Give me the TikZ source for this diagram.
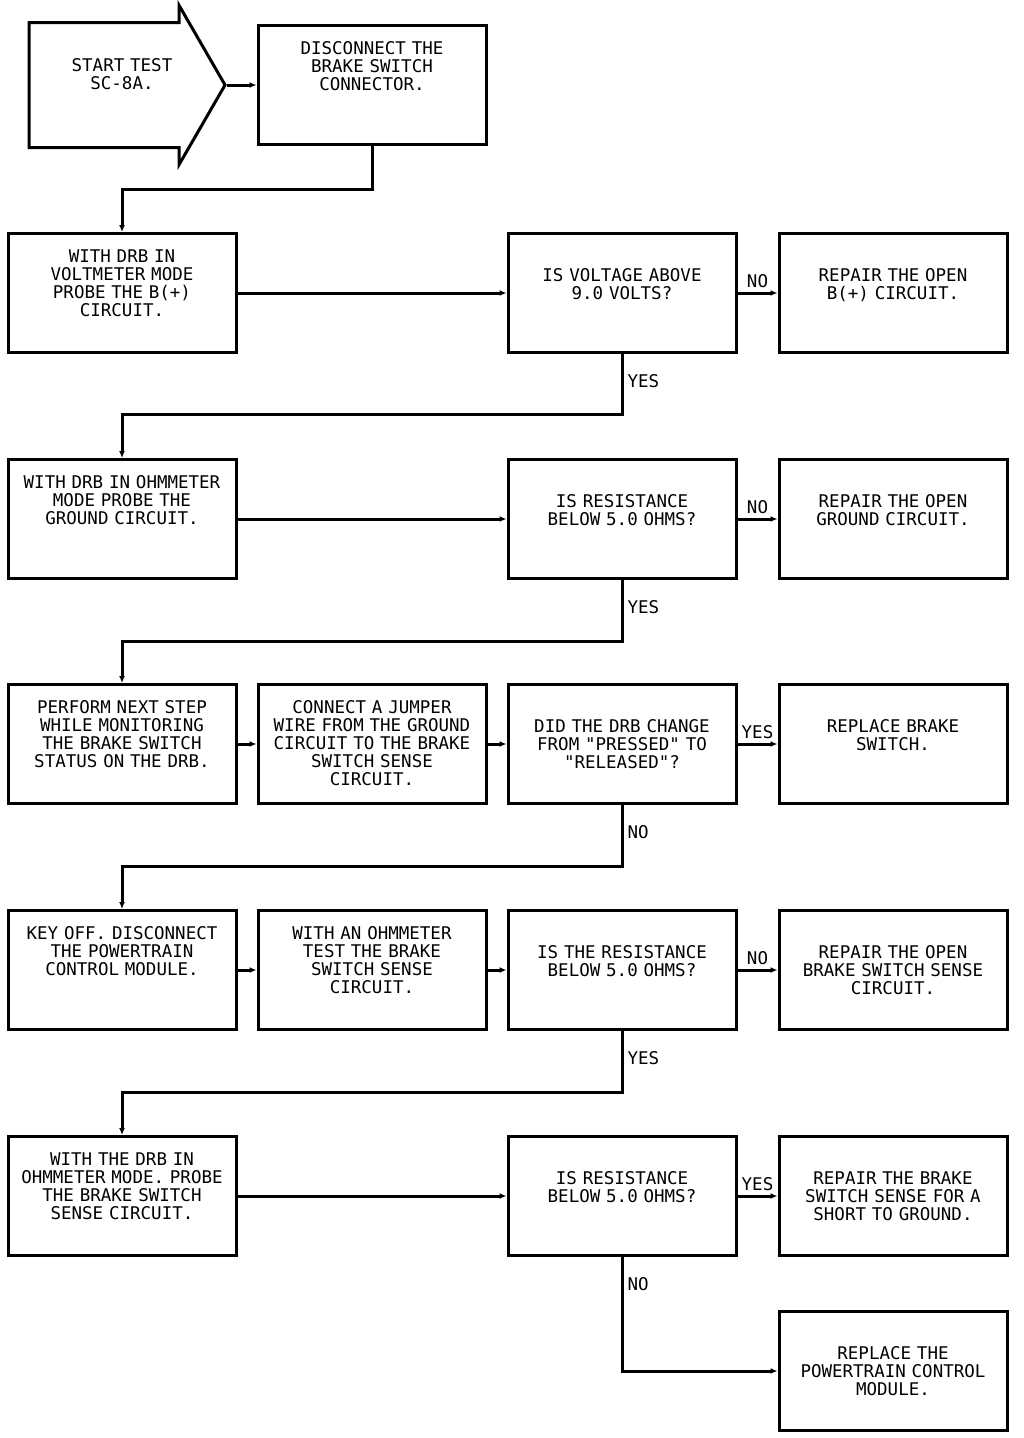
\documentclass[tikz,border=0pt]{standalone}
\usepackage{fontspec}
\setmonofont{DejaVu Sans Mono}
\usepackage{tikz}
\usetikzlibrary{arrows.meta, shapes.arrows, positioning}

\begin{document}
\begin{tikzpicture}[x=1pt, y=-1pt,
    every node/.style={font=\ttfamily\fontsize{17.5}{18}\selectfont},
    stepbox/.style={rectangle, draw, line width=3pt, minimum width=228pt, minimum height=119pt,
        inner xsep=3pt, inner ysep=0pt, text width=222pt, align=center, text height=29pt, text depth=90pt},
    checkbox/.style={stepbox, text height=48pt, text depth=71pt},
    conn/.style={line width=3pt, -{Latex[length=7pt, width=6pt]}},
    answer/.style={inner sep=4pt}]
    \useasboundingbox (0,0) rectangle (1024,1438);

    % start arrow, text sits a bit right of the node centre
    \node[single arrow, draw, line width=3pt, minimum height=196pt, minimum width=156pt,
        single arrow head extend=17pt, single arrow tip angle=120, inner sep=0pt,
        text width=150pt, align=center, text height=47pt, text depth=75pt] at (109, 85) (start)
        {\hspace*{26pt}START TEST\\\hspace*{26pt}SC-8A.};
    \node[stepbox] at (372, 85)   (disc) {DISCONNECT THE\\BRAKE SWITCH\\CONNECTOR.};

    \node[stepbox] at (122, 293)  (volt) {WITH DRB IN\\VOLTMETER MODE\\PROBE THE B(+)\\CIRCUIT.};
    \node[checkbox] at (622, 293) (qvolt) {IS VOLTAGE ABOVE\\9.0 VOLTS?};
    \node[checkbox] at (893, 293) (fixbatt) {REPAIR THE OPEN\\B(+) CIRCUIT.};

    \node[stepbox] at (122, 519)  (ground) {WITH DRB IN OHMMETER\\MODE PROBE THE\\GROUND CIRCUIT.};
    \node[checkbox] at (622, 519) (qground) {IS RESISTANCE\\BELOW 5.0 OHMS?};
    \node[checkbox] at (893, 519) (fixground) {REPAIR THE OPEN\\GROUND CIRCUIT.};

    \node[stepbox] at (122, 744)  (monitor) {PERFORM NEXT STEP\\WHILE MONITORING\\THE BRAKE SWITCH\\STATUS ON THE DRB.};
    \node[stepbox] at (372, 744)  (jumper) {CONNECT A JUMPER\\WIRE FROM THE GROUND\\CIRCUIT TO THE BRAKE\\SWITCH SENSE\\CIRCUIT.};
    \node[checkbox] at (622, 744) (qstatus) {DID THE DRB CHANGE\\FROM "PRESSED" TO\\"RELEASED"?};
    \node[checkbox] at (893, 744) (swap) {REPLACE BRAKE\\SWITCH.};

    \node[stepbox] at (122, 970)  (keyoff) {KEY OFF. DISCONNECT\\THE POWERTRAIN\\CONTROL MODULE.};
    \node[stepbox] at (372, 970)  (ohmtest) {WITH AN OHMMETER\\TEST THE BRAKE\\SWITCH SENSE\\CIRCUIT.};
    \node[checkbox] at (622, 970) (qsense) {IS THE RESISTANCE\\BELOW 5.0 OHMS?};
    \node[checkbox] at (893, 970) (fixsense) {REPAIR THE OPEN\\BRAKE SWITCH SENSE\\CIRCUIT.};

    \node[stepbox] at (122, 1196)  (probe) {WITH THE DRB IN\\OHMMETER MODE. PROBE\\THE BRAKE SWITCH\\SENSE CIRCUIT.};
    \node[checkbox] at (622, 1196) (qshort) {IS RESISTANCE\\BELOW 5.0 OHMS?};
    \node[checkbox] at (893, 1196) (fixshort) {REPAIR THE BRAKE\\SWITCH SENSE FOR A\\SHORT TO GROUND.};
    \node[checkbox] at (893, 1371) (pcm) {REPLACE THE\\POWERTRAIN CONTROL\\MODULE.};

    \draw [conn] (start.tip) -- (disc);
    \draw [conn] (disc.south) -- ++(0, 43) -| (volt.north);

    \draw [conn] (volt) -- (qvolt);
    \draw [conn] (qvolt) -- node[above, answer] (novolt) {NO} (fixbatt);
    \draw [conn] (qvolt.south) -- ++(0, 60) node[pos=0.45, right, answer] (yesvolt) {YES} -| (ground.north);

    \draw [conn] (ground) -- (qground);
    \draw [conn] (qground) -- node[above, answer] (noground) {NO} (fixground);
    \draw [conn] (qground.south) -- ++(0, 61) node[pos=0.45, right, answer] (yesground) {YES} -| (monitor.north);

    \draw [conn] (monitor) -- (jumper);
    \draw [conn] (jumper) -- (qstatus);
    \draw [conn] (qstatus) -- node[above, answer] (yesstatus) {YES} (swap);
    \draw [conn] (qstatus.south) -- ++(0, 61) node[pos=0.45, right, answer] (nostatus) {NO} -| (keyoff.north);

    \draw [conn] (keyoff) -- (ohmtest);
    \draw [conn] (ohmtest) -- (qsense);
    \draw [conn] (qsense) -- node[above, answer] (nosense) {NO} (fixsense);
    \draw [conn] (qsense.south) -- ++(0, 61) node[pos=0.45, right, answer] (yessense) {YES} -| (probe.north);

    \draw [conn] (probe) -- (qshort);
    \draw [conn] (qshort) -- node[above, answer] (yesshort) {YES} (fixshort);
    \draw [conn] (qshort.south) |- node[pos=0.12, right, answer] (noshort) {NO} (pcm.west);
\end{tikzpicture}
\end{document}
